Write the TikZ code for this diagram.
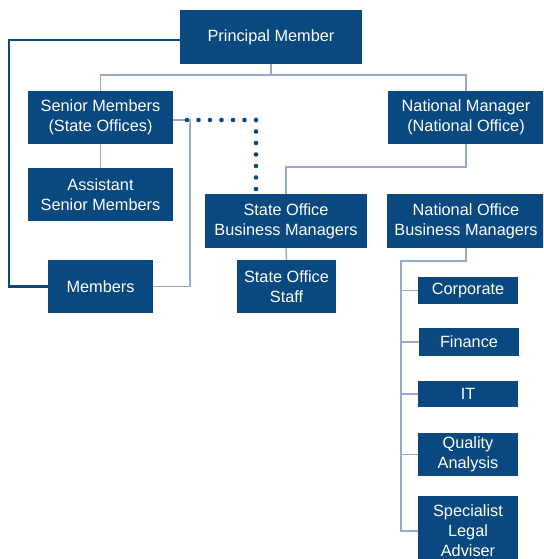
\documentclass[tikz,border=0pt]{standalone}
\usepackage{fontspec}
\setmainfont{Liberation Sans}
\usetikzlibrary{calc}
\definecolor{boxblue}{RGB}{10,72,128}
\definecolor{linkblue}{RGB}{150,170,205}
\begin{document}
\begin{tikzpicture}[x=1pt,y=-1pt,
  box/.style={fill=boxblue, text=white, font=\fontsize{16.3}{20}\selectfont, align=center, inner sep=0pt},
  link/.style={draw=linkblue, line width=1.4pt},
  mainlink/.style={draw=boxblue, line width=2.4pt},
  dotlink/.style={draw=boxblue, line width=4.6pt, line cap=round, dash pattern=on 0pt off 11.5pt}]
\useasboundingbox (0,0) rectangle (543,559);
\clip (0,0) rectangle (543,559);
\fill[white] (0,0) rectangle (543,559);

\coordinate (pmL) at (180,40);
\coordinate (smR) at (173,120);
\coordinate (bus1) at (271,75);
\coordinate (nmB) at (466,167);
\coordinate (nobB) at (466,261);
\coordinate (spine) at (401,261);
\coordinate (dotS) at (179,120);
\coordinate (dotC) at (256,120);
\coordinate (dotE) at (256,189);

\node[box, minimum width=182, minimum height=54] (pm) at (271,37) {Principal Member};
\node[box, minimum width=145, minimum height=53] (sm) at (100.5,117.5) {Senior Members\\(State Offices)};
\node[box, minimum width=156, minimum height=53] (nm) at (466,117.5) {National Manager\\(National Office)};
\node[box, minimum width=145, minimum height=53] (asm) at (100.5,194.5) {Assistant\\Senior Members};
\node[box, minimum width=162, minimum height=54] (sobm) at (286,221) {State Office\\Business Managers};
\node[box, minimum width=158, minimum height=54] (nobm) at (466,221) {National Office\\Business Managers};
\node[box, minimum width=105, minimum height=53] (mem) at (100.5,286.5) {Members};
\node[box, minimum width=99, minimum height=53] (sos) at (286.5,286.5) {State Office\\Staff};
\node[box, minimum width=100, minimum height=27] (corp) at (468,290.5) {Corporate};
\node[box, minimum width=100, minimum height=28] (fin) at (469,342) {Finance};
\node[box, minimum width=100, minimum height=26] (it) at (468,394) {IT};
\node[box, minimum width=100, minimum height=43] (qa) at (468,454.5) {Quality\\Analysis};
\node[box, minimum width=100, minimum height=70] (sla) at (468,531) {Specialist\\Legal\\Adviser};

% Principal to Members (thick)
\draw[mainlink] (pmL) -- (9,40) |- (mem.west);
% Principal to Senior / National
\draw[link] (pm.south) -- (bus1);
\draw[link] (sm.north) |- (bus1) -| (nm.north);
% Senior to Assistant
\draw[link] (sm.south) -- (asm.north);
% Senior to Members
\draw[link] (smR) -- (190,120) |- (mem.east);
% dotted Senior to State Office BM
\draw[dotlink] (dotE) -- (dotC) -- (dotS);
% National Manager to State Office BM
\draw[link] (nm.south) -- (nmB) -| (sobm.north);
% SOBM to Staff
\draw[link] (sobm.south) -- (sos.north);
% NOBM to departments
\draw[link] (nobm.south) -- (nobB) -- (spine) |- (sla.west);
\draw[link] (spine |- corp.west) -- (corp.west);
\draw[link] (spine |- fin.west) -- (fin.west);
\draw[link] (spine |- it.west) -- (it.west);
\draw[link] (spine |- qa.west) -- (qa.west);
\end{tikzpicture}
\end{document}
